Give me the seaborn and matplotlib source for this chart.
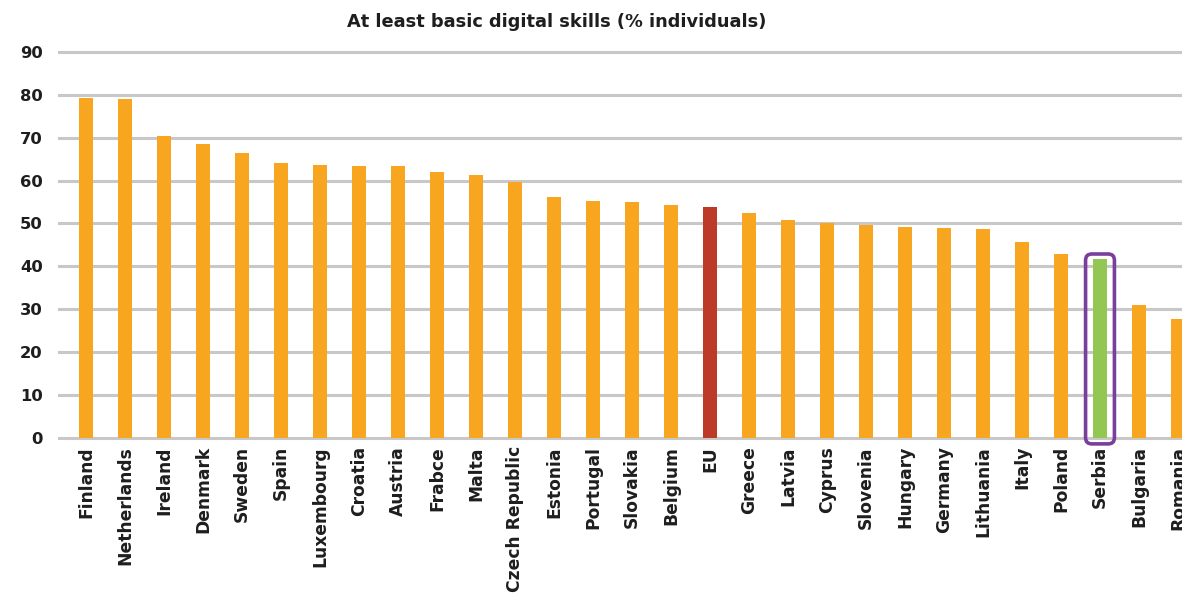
import matplotlib
matplotlib.use("Agg")
import matplotlib.pyplot as plt
from matplotlib.patches import FancyBboxPatch
import seaborn as sns
import pandas as pd

countries = [
    "Finland", "Netherlands", "Ireland", "Denmark", "Sweden", "Spain",
    "Luxembourg", "Croatia", "Austria", "Frabce", "Malta", "Czech Republic",
    "Estonia", "Portugal", "Slovakia", "Belgium", "EU", "Greece", "Latvia",
    "Cyprus", "Slovenia", "Hungary", "Germany", "Lithuania", "Italy",
    "Poland", "Serbia", "Bulgaria", "Romania",
]
skills = [
    79.1, 78.9, 70.4, 68.6, 66.5, 64.1,
    63.7, 63.3, 63.3, 61.9, 61.2, 59.7,
    56.2, 55.2, 55.1, 54.2, 53.8, 52.4, 50.7,
    50.2, 49.6, 49.1, 48.9, 48.8, 45.6,
    42.9, 41.7, 31.1, 27.8,
]
y_ticks = [0, 10, 20, 30, 40, 50, 60, 70, 80, 90]
title = "At least basic digital skills (% individuals)"

ORANGE = "#F8A61F"
EU_RED = "#BC3B28"
SERBIA_GREEN = "#94C653"
PURPLE = "#7A3F9C"
GRID = "#C8C8C8"
TEXT = "#1E1E1E"

palette = {c: ORANGE for c in countries}
palette["EU"] = EU_RED
palette["Serbia"] = SERBIA_GREEN

df = pd.DataFrame({"country": countries, "value": skills})

sns.set_theme(style="white")
plt.rcParams["font.family"] = ["DejaVu Sans"]

W, H = 1182, 593
fig = plt.figure(figsize=(W / 100, H / 100), dpi=100)

# axes geometry in pixels: x-slot spacing 39 px, first slot centred at 86 px
px_per_unit_y = 4.296
y0_px = 438.3
y_lo, y_hi = -1.0, 91.0
bottom_px = y0_px - y_lo * px_per_unit_y
top_px = y0_px - y_hi * px_per_unit_y
left_px = 58.0
slot = 39.0
x_lo = -(86.0 - left_px) / slot
x_hi = 28.5
right_px = 86.0 + x_hi * slot

ax = fig.add_axes([
    left_px / W,
    (H - bottom_px) / H,
    (right_px - left_px) / W,
    (bottom_px - top_px) / H,
])

sns.barplot(
    data=df, x="country", y="value", hue="country", palette=palette,
    width=0.38, legend=False, ax=ax, saturation=1,
    edgecolor="none", linewidth=0, zorder=3,
)

ax.set_xlim(x_lo, x_hi)
ax.set_ylim(y_lo, y_hi)
ax.set_yticks(y_ticks)
ax.set_yticklabels([str(t) for t in y_ticks])
for t in y_ticks:
    ax.axhline(t, color=GRID, linewidth=2.2, zorder=1)
ax.grid(False)

for s in ax.spines.values():
    s.set_visible(False)

ax.set_xlabel("")
ax.set_ylabel("")
ax.tick_params(axis="y", length=0, pad=11, labelsize=11.8, labelcolor=TEXT)
ax.tick_params(axis="x", length=0, pad=2.5, labelsize=12.3, labelcolor=TEXT)
for lbl in ax.get_yticklabels():
    lbl.set_fontweight("bold")
for lbl in ax.get_xticklabels():
    lbl.set_fontweight("bold")
    lbl.set_rotation(90)
    lbl.set_va("top")
    lbl.set_ha("center")

# rounded highlight box around Serbia
i_srb = countries.index("Serbia")
box_half = 0.37
aspect = slot / px_per_unit_y
box = FancyBboxPatch(
    (i_srb - box_half, -1.3), 2 * box_half, skills[i_srb] + 1.3 + 1.2,
    boxstyle="round,pad=0,rounding_size=0.16",
    mutation_aspect=aspect,
    facecolor="none", edgecolor=PURPLE, linewidth=2.6,
    clip_on=False, zorder=4,
)
ax.add_patch(box)

fig.text(557 / W, 1 - 22 / H, title, ha="center", va="center",
         fontsize=12.8, fontweight="bold", color=TEXT)

fig.savefig("out.png", dpi=100)
